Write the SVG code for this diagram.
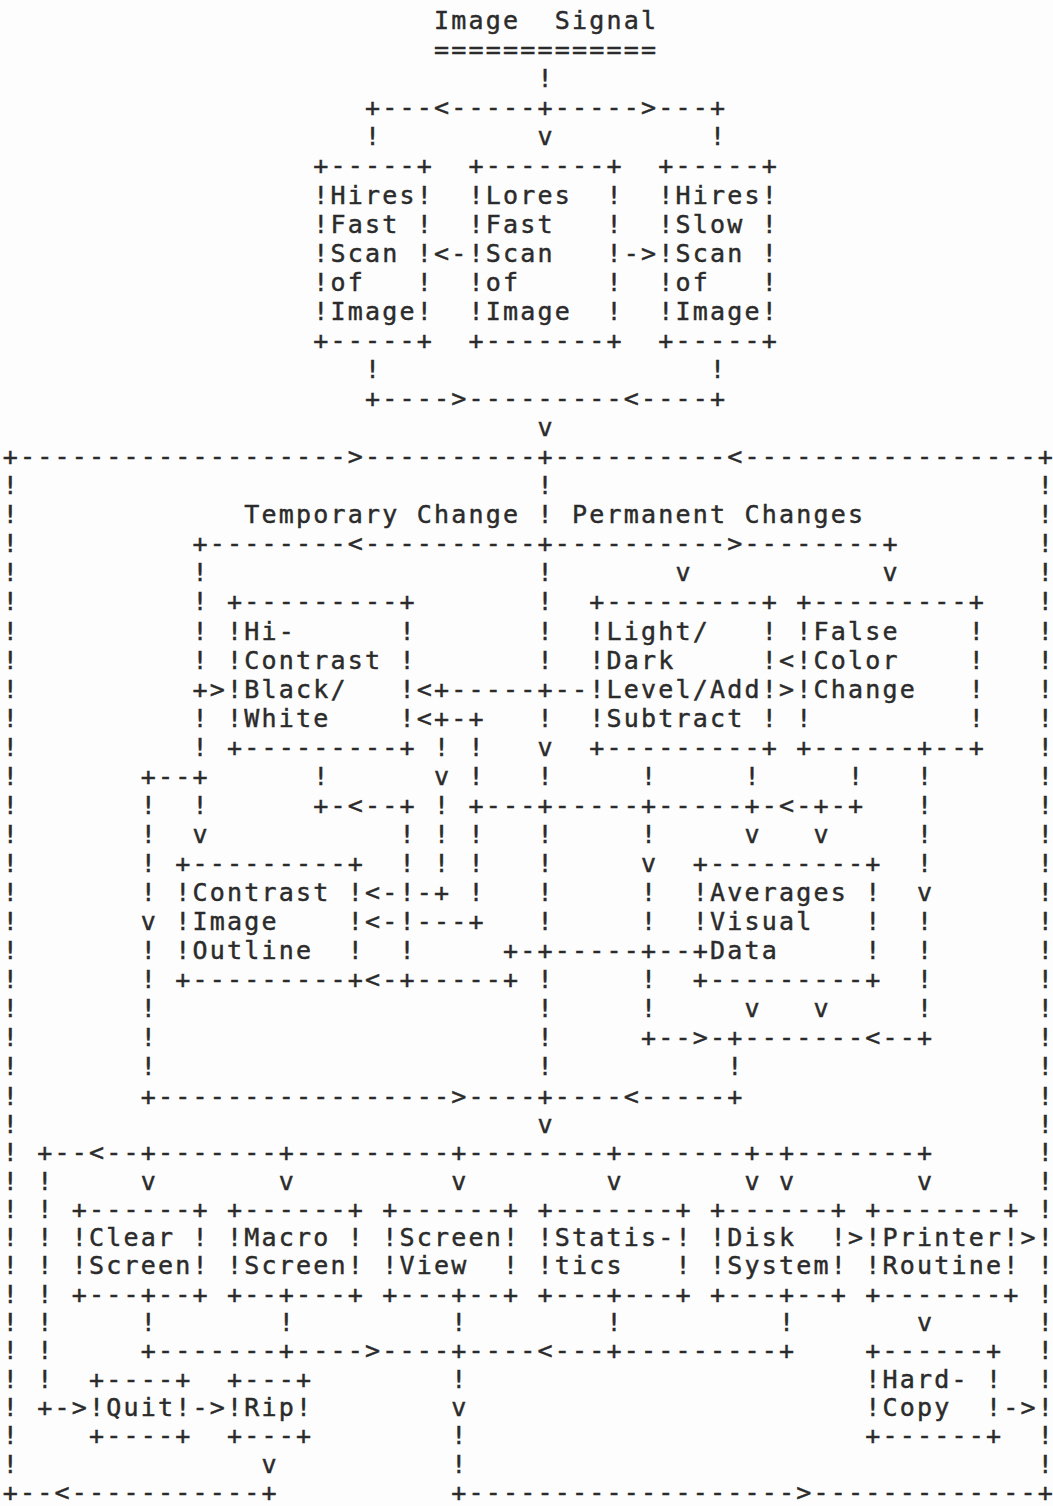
<svg xmlns="http://www.w3.org/2000/svg" width="1053" height="1506" viewBox="0 0 1053 1506" xml:space="preserve">
<style>
text { font-family: "DejaVu Sans Mono", "Liberation Mono", monospace; font-size: 25px; letter-spacing: 2.2px; fill: #2b2b2b; stroke: #2b2b2b; stroke-width: 0.45px; white-space: pre; }
</style>
<rect width="1053" height="1506" fill="#fdfdfd"/>
<g id="title">
<text x="434.05" y="29.1">Image  Signal</text>
<text x="434.05" y="58.2">=============</text>
</g>
<g id="labels">
<text y="523.2"><tspan x="244.3">Temporary Change</tspan><tspan x="572.05">Permanent Changes</tspan></text>
</g>
<g id="node-hires-fast">
<text x="313.3" y="174.4">+-----+</text>
<text x="313.3" y="203.5">!Hires!</text>
<text x="313.3" y="232.6">!Fast !</text>
<text x="313.3" y="261.6">!Scan !</text>
<text x="313.3" y="290.7">!of   !</text>
<text x="313.3" y="319.8">!Image!</text>
<text x="313.3" y="348.8">+-----+</text>
</g>
<g id="node-lores-fast">
<text x="468.55" y="174.4">+-------+</text>
<text x="468.55" y="203.5">!Lores  !</text>
<text x="468.55" y="232.6">!Fast   !</text>
<text x="468.55" y="261.6">!Scan   !</text>
<text x="468.55" y="290.7">!of     !</text>
<text x="468.55" y="319.8">!Image  !</text>
<text x="468.55" y="348.8">+-------+</text>
</g>
<g id="node-hires-slow">
<text x="658.3" y="174.4">+-----+</text>
<text x="658.3" y="203.5">!Hires!</text>
<text x="658.3" y="232.6">!Slow !</text>
<text x="658.3" y="261.6">!Scan !</text>
<text x="658.3" y="290.7">!of   !</text>
<text x="658.3" y="319.8">!Image!</text>
<text x="658.3" y="348.8">+-----+</text>
</g>
<g id="node-hi-contrast">
<text x="227.05" y="610.4">+---------+</text>
<text x="227.05" y="639.5">!Hi-      !</text>
<text x="227.05" y="668.5">!Contrast !</text>
<text x="227.05" y="697.6">!Black/   !</text>
<text x="227.05" y="726.7">!White    !</text>
<text x="227.05" y="755.7">+---------+</text>
</g>
<g id="node-light-dark">
<text x="589.3" y="610.4">+---------+</text>
<text x="589.3" y="639.5">!Light/   !</text>
<text x="589.3" y="668.5">!Dark     !</text>
<text x="589.3" y="697.6">!Level/Add!</text>
<text x="589.3" y="726.7">!Subtract !</text>
<text x="589.3" y="755.7">+---------+</text>
</g>
<g id="node-false-color">
<text x="796.3" y="610.4">+---------+</text>
<text x="796.3" y="639.5">!False    !</text>
<text x="796.3" y="668.5">!Color    !</text>
<text x="796.3" y="697.6">!Change   !</text>
<text x="796.3" y="726.7">!         !</text>
<text x="796.3" y="755.7">+------+--+</text>
</g>
<g id="node-contrast-outline">
<text x="175.3" y="872.0">+---------+</text>
<text x="175.3" y="901.1">!Contrast !</text>
<text x="175.3" y="930.1">!Image    !</text>
<text x="175.3" y="959.2">!Outline  !</text>
<text x="175.3" y="988.3">+---------+</text>
</g>
<g id="node-averages">
<text x="692.8" y="872.0">+---------+</text>
<text x="692.8" y="901.1">!Averages !</text>
<text x="692.8" y="930.1">!Visual   !</text>
<text x="692.8" y="959.2">+Data     !</text>
<text x="692.8" y="988.3">+---------+</text>
</g>
<g id="node-clear-screen">
<text x="71.8" y="1217.8">+------+</text>
<text x="71.8" y="1246.1">!Clear !</text>
<text x="71.8" y="1274.4">!Screen!</text>
<text x="71.8" y="1302.7">+---+--+</text>
</g>
<g id="node-macro-screen">
<text x="227.05" y="1217.8">+------+</text>
<text x="227.05" y="1246.1">!Macro !</text>
<text x="227.05" y="1274.4">!Screen!</text>
<text x="227.05" y="1302.7">+--+---+</text>
</g>
<g id="node-screen-view">
<text x="382.3" y="1217.8">+------+</text>
<text x="382.3" y="1246.1">!Screen!</text>
<text x="382.3" y="1274.4">!View  !</text>
<text x="382.3" y="1302.7">+---+--+</text>
</g>
<g id="node-statistics">
<text x="537.55" y="1217.8">+-------+</text>
<text x="537.55" y="1246.1">!Statis-!</text>
<text x="537.55" y="1274.4">!tics   !</text>
<text x="537.55" y="1302.7">+---+---+</text>
</g>
<g id="node-disk-system">
<text x="710.05" y="1217.8">+------+</text>
<text x="710.05" y="1246.1">!Disk  !</text>
<text x="710.05" y="1274.4">!System!</text>
<text x="710.05" y="1302.7">+---+--+</text>
</g>
<g id="node-printer-routine">
<text x="865.3" y="1217.8">+-------+</text>
<text x="865.3" y="1246.1">!Printer!</text>
<text x="865.3" y="1274.4">!Routine!</text>
<text x="865.3" y="1302.7">+-------+</text>
</g>
<g id="node-hard-copy">
<text x="865.3" y="1359.4">+------+</text>
<text x="865.3" y="1387.7">!Hard- !</text>
<text x="865.3" y="1416.0">!Copy  !</text>
<text x="865.3" y="1444.3">+------+</text>
</g>
<g id="node-quit">
<text x="89.05" y="1387.7">+----+</text>
<text x="89.05" y="1416.0">!Quit!</text>
<text x="89.05" y="1444.3">+----+</text>
</g>
<g id="node-rip">
<text x="227.05" y="1387.7">+---+</text>
<text x="227.05" y="1416.0">!Rip!</text>
<text x="227.05" y="1444.3">+---+</text>
</g>
<g id="connectors">
<text y="87.2"><tspan x="537.55">!</tspan></text>
<text y="116.3"><tspan x="365.05">+---&lt;-----+-----&gt;---+</tspan></text>
<text y="145.4"><tspan x="365.05">!</tspan><tspan x="537.55">v</tspan><tspan x="710.05">!</tspan></text>
<text y="261.6"><tspan x="434.05">&lt;-</tspan><tspan x="623.8">-&gt;</tspan></text>
<text y="377.9"><tspan x="365.05">!</tspan><tspan x="710.05">!</tspan></text>
<text y="407.0"><tspan x="365.05">+----&gt;---------&lt;----+</tspan></text>
<text y="436.0"><tspan x="537.55">v</tspan></text>
<text y="465.1"><tspan x="2.8">+-------------------&gt;----------+----------&lt;-----------------+</tspan></text>
<text y="494.1"><tspan x="2.8">!</tspan><tspan x="537.55">!</tspan><tspan x="1037.8">!</tspan></text>
<text y="523.2"><tspan x="2.8">!</tspan><tspan x="537.55">!</tspan><tspan x="1037.8">!</tspan></text>
<text y="552.3"><tspan x="2.8">!</tspan><tspan x="192.55">+--------&lt;----------+----------&gt;--------+</tspan><tspan x="1037.8">!</tspan></text>
<text y="581.3"><tspan x="2.8">!</tspan><tspan x="192.55">!</tspan><tspan x="537.55">!</tspan><tspan x="675.55">v</tspan><tspan x="882.55">v</tspan><tspan x="1037.8">!</tspan></text>
<text y="610.4"><tspan x="2.8">!</tspan><tspan x="192.55">!</tspan><tspan x="537.55">!</tspan><tspan x="1037.8">!</tspan></text>
<text y="639.5"><tspan x="2.8">!</tspan><tspan x="192.55">!</tspan><tspan x="537.55">!</tspan><tspan x="1037.8">!</tspan></text>
<text y="668.5"><tspan x="2.8">!</tspan><tspan x="192.55">!</tspan><tspan x="537.55">!</tspan><tspan x="779.05">&lt;</tspan><tspan x="1037.8">!</tspan></text>
<text y="697.6"><tspan x="2.8">!</tspan><tspan x="192.55">+&gt;</tspan><tspan x="416.8">&lt;+-----+--</tspan><tspan x="779.05">&gt;</tspan><tspan x="1037.8">!</tspan></text>
<text y="726.7"><tspan x="2.8">!</tspan><tspan x="192.55">!</tspan><tspan x="416.8">&lt;+-+</tspan><tspan x="537.55">!</tspan><tspan x="1037.8">!</tspan></text>
<text y="755.7"><tspan x="2.8">!</tspan><tspan x="192.55">!</tspan><tspan x="434.05">!</tspan><tspan x="468.55">!</tspan><tspan x="537.55">v</tspan><tspan x="1037.8">!</tspan></text>
<text y="784.8"><tspan x="2.8">!</tspan><tspan x="140.8">+--+</tspan><tspan x="313.3">!</tspan><tspan x="434.05">v</tspan><tspan x="468.55">!</tspan><tspan x="537.55">!</tspan><tspan x="641.05">!</tspan><tspan x="744.55">!</tspan><tspan x="848.05">!</tspan><tspan x="917.05">!</tspan><tspan x="1037.8">!</tspan></text>
<text y="813.9"><tspan x="2.8">!</tspan><tspan x="140.8">!</tspan><tspan x="192.55">!</tspan><tspan x="313.3">+-&lt;--+</tspan><tspan x="434.05">!</tspan><tspan x="468.55">+---+-----+-----+-&lt;-+-+</tspan><tspan x="917.05">!</tspan><tspan x="1037.8">!</tspan></text>
<text y="842.9"><tspan x="2.8">!</tspan><tspan x="140.8">!</tspan><tspan x="192.55">v</tspan><tspan x="399.55">!</tspan><tspan x="434.05">!</tspan><tspan x="468.55">!</tspan><tspan x="537.55">!</tspan><tspan x="641.05">!</tspan><tspan x="744.55">v</tspan><tspan x="813.55">v</tspan><tspan x="917.05">!</tspan><tspan x="1037.8">!</tspan></text>
<text y="872.0"><tspan x="2.8">!</tspan><tspan x="140.8">!</tspan><tspan x="399.55">!</tspan><tspan x="434.05">!</tspan><tspan x="468.55">!</tspan><tspan x="537.55">!</tspan><tspan x="641.05">v</tspan><tspan x="917.05">!</tspan><tspan x="1037.8">!</tspan></text>
<text y="901.1"><tspan x="2.8">!</tspan><tspan x="140.8">!</tspan><tspan x="365.05">&lt;-!-+</tspan><tspan x="468.55">!</tspan><tspan x="537.55">!</tspan><tspan x="641.05">!</tspan><tspan x="917.05">v</tspan><tspan x="1037.8">!</tspan></text>
<text y="930.1"><tspan x="2.8">!</tspan><tspan x="140.8">v</tspan><tspan x="365.05">&lt;-!---+</tspan><tspan x="537.55">!</tspan><tspan x="641.05">!</tspan><tspan x="917.05">!</tspan><tspan x="1037.8">!</tspan></text>
<text y="959.2"><tspan x="2.8">!</tspan><tspan x="140.8">!</tspan><tspan x="399.55">!</tspan><tspan x="503.05">+-+-----+--</tspan><tspan x="917.05">!</tspan><tspan x="1037.8">!</tspan></text>
<text y="988.3"><tspan x="2.8">!</tspan><tspan x="140.8">!</tspan><tspan x="365.05">&lt;-+-----+</tspan><tspan x="537.55">!</tspan><tspan x="641.05">!</tspan><tspan x="917.05">!</tspan><tspan x="1037.8">!</tspan></text>
<text y="1017.3"><tspan x="2.8">!</tspan><tspan x="140.8">!</tspan><tspan x="537.55">!</tspan><tspan x="641.05">!</tspan><tspan x="744.55">v</tspan><tspan x="813.55">v</tspan><tspan x="917.05">!</tspan><tspan x="1037.8">!</tspan></text>
<text y="1046.4"><tspan x="2.8">!</tspan><tspan x="140.8">!</tspan><tspan x="537.55">!</tspan><tspan x="641.05">+--&gt;-+-------&lt;--+</tspan><tspan x="1037.8">!</tspan></text>
<text y="1075.4"><tspan x="2.8">!</tspan><tspan x="140.8">!</tspan><tspan x="537.55">!</tspan><tspan x="727.3">!</tspan><tspan x="1037.8">!</tspan></text>
<text y="1104.5"><tspan x="2.8">!</tspan><tspan x="140.8">+-----------------&gt;----+----&lt;-----+</tspan><tspan x="1037.8">!</tspan></text>
<text y="1132.8"><tspan x="2.8">!</tspan><tspan x="537.55">v</tspan><tspan x="1037.8">!</tspan></text>
<text y="1161.1"><tspan x="2.8">!</tspan><tspan x="37.3">+--&lt;--+-------+---------+--------+-------+-+-------+</tspan><tspan x="1037.8">!</tspan></text>
<text y="1189.5"><tspan x="2.8">!</tspan><tspan x="37.3">!</tspan><tspan x="140.8">v</tspan><tspan x="278.8">v</tspan><tspan x="451.3">v</tspan><tspan x="606.55">v</tspan><tspan x="744.55">v</tspan><tspan x="779.05">v</tspan><tspan x="917.05">v</tspan><tspan x="1037.8">!</tspan></text>
<text y="1217.8"><tspan x="2.8">!</tspan><tspan x="37.3">!</tspan><tspan x="1037.8">!</tspan></text>
<text y="1246.1"><tspan x="2.8">!</tspan><tspan x="37.3">!</tspan><tspan x="848.05">&gt;</tspan><tspan x="1020.55">&gt;!</tspan></text>
<text y="1274.4"><tspan x="2.8">!</tspan><tspan x="37.3">!</tspan><tspan x="1037.8">!</tspan></text>
<text y="1302.7"><tspan x="2.8">!</tspan><tspan x="37.3">!</tspan><tspan x="1037.8">!</tspan></text>
<text y="1331.1"><tspan x="2.8">!</tspan><tspan x="37.3">!</tspan><tspan x="140.8">!</tspan><tspan x="278.8">!</tspan><tspan x="451.3">!</tspan><tspan x="606.55">!</tspan><tspan x="779.05">!</tspan><tspan x="917.05">v</tspan><tspan x="1037.8">!</tspan></text>
<text y="1359.4"><tspan x="2.8">!</tspan><tspan x="37.3">!</tspan><tspan x="140.8">+-------+----&gt;----+----&lt;---+---------+</tspan><tspan x="1037.8">!</tspan></text>
<text y="1387.7"><tspan x="2.8">!</tspan><tspan x="37.3">!</tspan><tspan x="451.3">!</tspan><tspan x="1037.8">!</tspan></text>
<text y="1416.0"><tspan x="2.8">!</tspan><tspan x="37.3">+-&gt;</tspan><tspan x="192.55">-&gt;</tspan><tspan x="451.3">v</tspan><tspan x="1003.3">-&gt;!</tspan></text>
<text y="1444.3"><tspan x="2.8">!</tspan><tspan x="451.3">!</tspan><tspan x="1037.8">!</tspan></text>
<text y="1472.7"><tspan x="2.8">!</tspan><tspan x="261.55">v</tspan><tspan x="451.3">!</tspan><tspan x="1037.8">!</tspan></text>
<text y="1501"><tspan x="2.8">+--&lt;-----------+</tspan><tspan x="451.3">+-------------------&gt;-------------+</tspan></text>
</g>
</svg>
